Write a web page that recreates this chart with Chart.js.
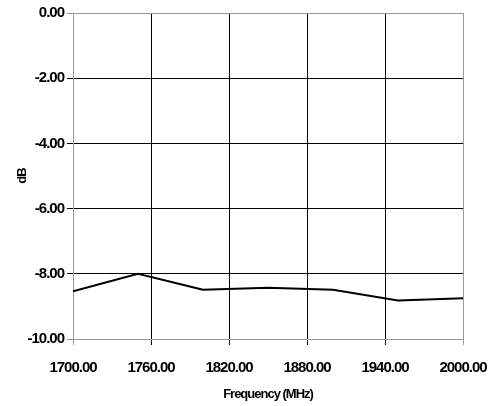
<!DOCTYPE html>
<html lang="en">

<head>
  <meta charset="UTF-8">
  <title>Frequency response</title>
  <script src="https://cdn.jsdelivr.net/npm/chart.js"></script>
  <style>
    body { margin: 0; background: #fff; }
  </style>
</head>

<body>
  <canvas id="freqChart" width="489" height="406"></canvas>

  <script>
    // Values
    const frequencies = [1700, 1750, 1800, 1850, 1900, 1950, 2000];
    const levels = [-8.54, -8.0, -8.49, -8.43, -8.49, -8.82, -8.75];

    const xTicks = [1700, 1760, 1820, 1880, 1940, 2000];
    const yTicks = [0, -2, -4, -6, -8, -10];

    const GRAY = '#999999';
    const BLACK = '#000000';

    // Tighten the letters a bit, like the original
    const tightText = {
      id: 'tightText',
      beforeDraw(chart) {
        chart.ctx.letterSpacing = '-1px';
      }
    };

    const ctx = document.getElementById('freqChart').getContext('2d');
    const freqChart = new Chart(ctx, {
      type: 'line',
      data: {
        datasets: [{
          data: frequencies.map((f, i) => ({ x: f, y: levels[i] })),
          borderColor: BLACK,
          borderWidth: 2,
          pointRadius: 0,
          tension: 0,
        }],
      },
      options: {
        responsive: false,
        animation: false,
        layout: { padding: { top: 13, right: 26, left: 11, bottom: 0 } },
        plugins: {
          legend: { display: false },
          tooltip: { enabled: false },
        },
        scales: {
          x: {
            type: 'linear',
            min: 1700,
            max: 2000,
            afterBuildTicks: (axis) => { axis.ticks = xTicks.map(v => ({ value: v })); },
            afterFit: (axis) => {
              axis.height = 67;
              axis.paddingLeft = 0;
              axis.paddingRight = 0;
            },
            ticks: {
              color: BLACK,
              font: { family: 'Liberation Sans', size: 15, weight: 'bold' },
              padding: 14,
              maxRotation: 0,
              callback: (v) => v.toFixed(2),
            },
            grid: {
              color: (c) => (c.index === 0 || c.index === xTicks.length - 1) ? GRAY : BLACK,
              lineWidth: 1,
              tickLength: 6,
            },
            border: { color: GRAY },
            title: {
              display: true,
              text: 'Frequency (MHz)',
              color: BLACK,
              font: { family: 'Liberation Sans', size: 13, weight: 'bold' },
              padding: { top: 4 },
            },
          },
          y: {
            min: -10,
            max: 0,
            afterBuildTicks: (axis) => { axis.ticks = yTicks.map(v => ({ value: v })); },
            afterFit: (axis) => {
              axis.width = 62;
              axis.paddingTop = 0;
              axis.paddingBottom = 0;
            },
            ticks: {
              color: BLACK,
              font: { family: 'Liberation Sans', size: 15, weight: 'bold' },
              padding: 3,
              callback: (v) => v.toFixed(2),
            },
            grid: {
              color: (c) => (c.tick.value === 0 || c.tick.value === -10) ? GRAY : BLACK,
              lineWidth: 1,
              tickLength: 6,
            },
            border: { color: GRAY },
            title: {
              display: true,
              text: 'dB',
              color: BLACK,
              font: { family: 'Liberation Sans', size: 13, weight: 'bold' },
              padding: { bottom: 4 },
            },
          },
        },
      },
      plugins: [tightText],
    });
  </script>
</body>

</html>
